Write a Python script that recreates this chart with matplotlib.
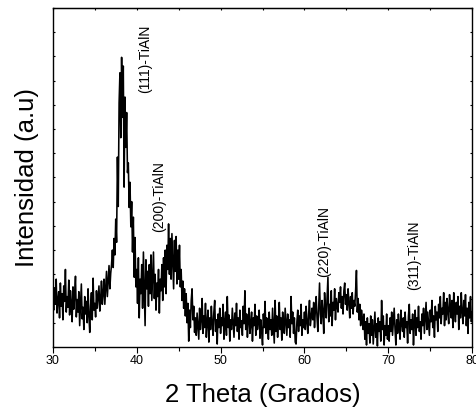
import numpy as np
import matplotlib.pyplot as plt
from matplotlib.ticker import MultipleLocator

plt.rcParams["font.family"] = ["Liberation Sans", "DejaVu Sans"]

# ===========================
# Data (0.1 deg steps)
# ===========================
two_theta = np.round(np.linspace(30.0, 80.0, 501), 1)

# 30.0 - 39.9
i_30_40 = [
    52, 38, 61, 44, 70, 35, 48, 57, 30, 66,
    42, 55, 28, 63, 47, 80, 36, 52, 41, 69,
    33, 58, 45, 26, 62, 39, 54, 73, 31, 49,
    36, 57, 22, 44, 65, 29, 41, 18, 52, 34,
    47, 25, 60, 33, 15, 42, 56, 28, 71, 38,
    45, 31, 58, 40, 52, 63, 37, 49, 68, 44,
    55, 70, 44, 62, 78, 52, 68, 84, 60, 76,
    85, 100, 82, 112, 95, 132, 108, 196, 145, 252,
    283, 216, 299, 237, 290, 165, 258, 206, 242, 180,
    190, 144, 170, 124, 150, 98, 134, 72, 113, 62,
]
# 40.0 - 49.9
i_40_50 = [
    80, 45, 92, 30, 70, 55, 85, 40, 98, 62,
    22, 90, 60, 78, 42, 85, 55, 95, 48, 72,
    98, 50, 75, 38, 66, 52, 80, 35, 70, 58,
    85, 48, 92, 62, 100, 55, 105, 80, 127, 75,
    112, 70, 117, 88, 60, 110, 78, 114, 65, 100,
    70, 105, 62, 80, 48, 68, 40, 60, 32, 55,
    25, 45, 6, 38, 20, 48, 60, 28, 42, 15,
    30, 12, 35, 22, 8, 40, 18, 28, 50, 14,
    32, 20, 45, 10, 26, 38, 5, 30, 18, 42,
    24, 12, 36, 48, 16, 28, 3, 34, 20, 40,
]
# 50.0 - 59.9
i_50_60 = [
    14, 30, 22, 44, 8, 26, 36, 12, 52, 20,
    33, 6, 28, 18, 40, 24, 10, 35, 22, 45,
    16, 30, 8, 38, 20, 27, 12, 42, 24, 58,
    18, 34, 10, 28, 40, 14, 24, 36, 6, 30,
    22, 44, 12, 32, 18, 26, 38, 9, 28, 16,
    2, 34, 20, 47, 14, 30, 24, 8, 36, 18,
    28, 12, 40, 22, 4, 48, 16, 32, 10, 26,
    46, 18, 30, 7, 36, 22, 14, 40, 26, 12,
    34, 20, 28, 10, 52, 24, 36, 14, 30, 5,
    3, 26, 38, 16, 32, 22, 44, 12, 28, 20,
]
# 60.0 - 69.9
i_60_70 = [
    36, 18, 42, 26, 14, 34, 48, 22, 30, 40,
    28, 46, 20, 38, 52, 30, 16, 42, 66, 34,
    24, 48, 36, 14, 56, 40, 30, 50, 72, 26,
    44, 32, 58, 22, 46, 38, 60, 28, 50, 42,
    36, 56, 46, 62, 40, 52, 34, 58, 66, 44,
    54, 38, 60, 46, 30, 52, 40, 56, 34, 48,
    42, 58, 79, 36, 50, 28, 44, 22, 38, 30,
    18, 34, 8, 26, 2, 30, 14, 24, 4, 32,
    12, 28, 3, 20, 36, 10, 24, 1, 30, 16,
    26, 6, 48, 18, 32, 2, 22, 12, 34, 8,
]
# 70.0 - 80.0
i_70_80 = [
    22, 6, 30, 16, 36, 12, 26, 40, 18, 2,
    28, 14, 34, 20, 8, 38, 24, 16, 30, 10,
    36, 20, 26, 4, 32, 44, 14, 28, 18, 34,
    2, 24, 38, 12, 30, 20, 42, 16, 26, 8,
    34, 22, 40, 14, 30, 46, 18, 36, 24, 12,
    38, 26, 48, 20, 32, 10, 42, 28, 36, 16,
    44, 30, 52, 24, 40, 34, 56, 22, 46, 28,
    50, 36, 24, 54, 40, 30, 48, 20, 56, 38,
    26, 46, 34, 52, 18, 42, 30, 56, 36, 24,
    48, 32, 54, 22, 40, 14, 46, 30, 52, 26,
    36,
]

intensity = np.array(i_30_40 + i_40_50 + i_50_60 + i_60_70 + i_70_80, dtype=float)

peak_labels = ["(111)-TiAlN", "(200)-TiAlN", "(220)-TiAlN", "(311)-TiAlN"]
peak_x = [41.0, 42.7, 62.3, 73.1]
peak_y = [262, 119, 72, 59]

# ===========================
# Figure
# ===========================
fig = plt.figure(figsize=(4.76, 4.17), dpi=100)
ax = fig.add_axes([0.111, 0.168, 0.881, 0.813])

ax.plot(two_theta, intensity, color="black", linewidth=1.15)

for label, px, py in zip(peak_labels, peak_x, peak_y):
    ax.text(px, py, label, rotation=90, ha="center", va="bottom", fontsize=10)

ax.set_xlim(30, 80)
ax.set_ylim(0, 350)

ax.xaxis.set_major_locator(MultipleLocator(10))
ax.xaxis.set_minor_locator(MultipleLocator(5))
ax.yaxis.set_major_locator(MultipleLocator(25))
ax.tick_params(axis="x", which="major", direction="out", length=4, width=0.8,
               labelsize=9, pad=2, top=False)
ax.tick_params(axis="x", which="minor", direction="out", length=3, width=0.8, top=False)
ax.tick_params(axis="y", which="major", direction="in", length=1.5, width=0.8,
               left=True, right=True, labelleft=False)

# small inward ticks along the top edge
top = ax.secondary_xaxis("top")
top.xaxis.set_major_locator(MultipleLocator(5))
top.tick_params(direction="in", length=1.5, width=0.8, labeltop=False)

for s in ax.spines.values():
    s.set_linewidth(1.0)

ax.set_xlabel("2 Theta (Grados)", fontsize=18.5, labelpad=11)
ax.set_ylabel("Intensidad (a.u)", fontsize=18.5, labelpad=10)

plt.savefig("out.png", dpi=100)
